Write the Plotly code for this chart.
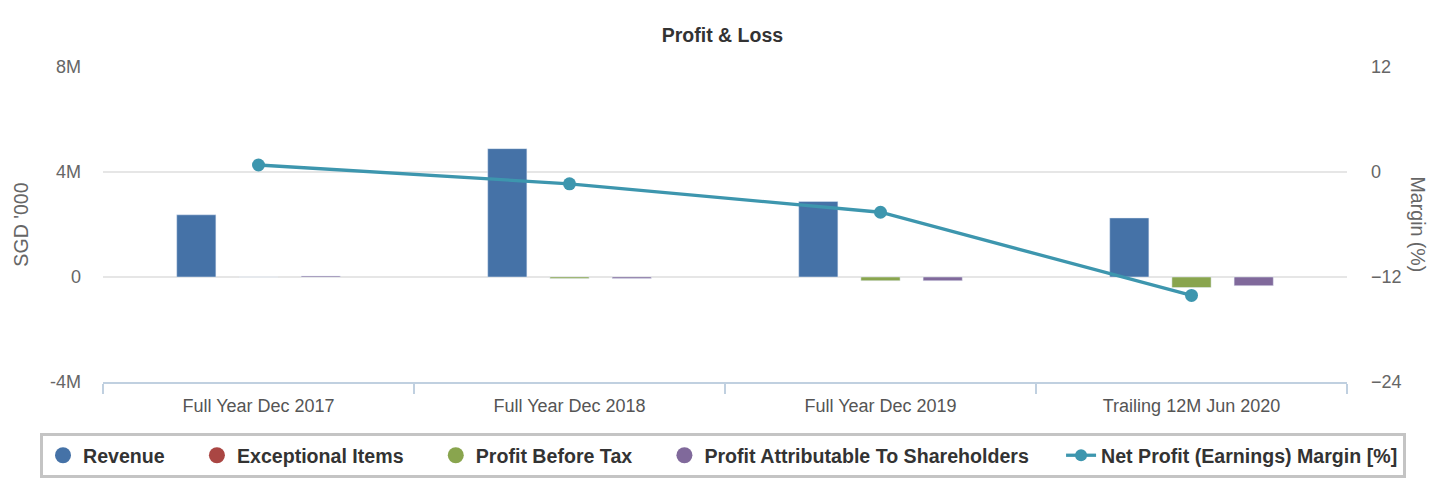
import plotly.graph_objects as go

categories = ["Full Year Dec 2017", "Full Year Dec 2018", "Full Year Dec 2019", "Trailing 12M Jun 2020"]
revenue = [2370000, 4890000, 2880000, 2250000]
exceptional_items = [None, None, None, None]
profit_before_tax = [0, -60000, -140000, -400000]
profit_attributable = [40000, -60000, -140000, -330000]
net_margin = [0.8, -1.35, -4.6, -14.1]

left_ticks = [-4000000, 0, 4000000, 8000000]
left_tick_text = ["-4M", "0", "4M", "8M"]
right_ticks = [-24, -12, 0, 12]

C_REV = "#4572A7"
C_EXC = "#AA4643"
C_PBT = "#89A54E"
C_PAT = "#80699B"
C_LINE = "#3D96AE"

NB = "\u00a0"
pad = NB * 5

# page has an 8px body margin; figure is sized / offset to compensate
W, H = 1428, 480
ML, MR, MT, MB = 20, 20, 59, 106
GW = W - ML - MR
X0, X1 = 95, 1339  # plot area in figure pixels
dom = [(X0 - ML) / GW, (X1 - ML) / GW]

fig = go.Figure()

fig.add_trace(go.Bar(x=categories, y=revenue, name="Revenue", marker_color=C_REV,
                     offsetgroup="a", showlegend=False))
fig.add_trace(go.Bar(x=categories, y=exceptional_items, name="Exceptional Items", marker_color=C_EXC,
                     offsetgroup="b", showlegend=False))
fig.add_trace(go.Bar(x=categories, y=profit_before_tax, name="Profit Before Tax", marker_color=C_PBT,
                     offsetgroup="b", showlegend=False))
fig.add_trace(go.Bar(x=categories, y=profit_attributable, name="Profit Attributable To Shareholders",
                     marker_color=C_PAT, offsetgroup="c", showlegend=False))
fig.add_trace(go.Scatter(x=categories, y=net_margin, yaxis="y2", mode="lines+markers",
                         name="Net Profit (Earnings) Margin [%]",
                         line=dict(color=C_LINE, width=3.3),
                         marker=dict(color=C_LINE, size=13), showlegend=False))

# legend entries (circle symbols like the original)
for nm, col in [("Revenue", C_REV), ("Exceptional Items", C_EXC), ("Profit Before Tax", C_PBT),
                ("Profit Attributable To Shareholders", C_PAT)]:
    fig.add_trace(go.Scatter(x=[None], y=[None], mode="markers", name="<b>" + nm + "</b>" + pad,
                             marker=dict(color=col, size=19), showlegend=True))
fig.add_trace(go.Scatter(x=[None], y=[None], yaxis="y2", mode="lines+markers",
                         name="<b>Net Profit (Earnings) Margin [%]</b>",
                         line=dict(color=C_LINE, width=3.3),
                         marker=dict(color=C_LINE, size=12), showlegend=True))

fig.update_layout(
    width=W, height=H,
    margin=dict(l=ML, r=MR, t=MT, b=MB, autoexpand=False),
    paper_bgcolor="white", plot_bgcolor="white",
    font=dict(family="Liberation Sans, Arial, sans-serif", color="#666666", size=18),
    title=dict(text="<b>Profit & Loss</b>", x=0.5003, xanchor="center", y=1 - 27 / H, yanchor="middle",
               font=dict(size=19.5, color="#333333")),
    barmode="group", bargap=0.4, bargroupgap=0.37,
    xaxis=dict(type="category", domain=dom, showline=True, linecolor="#C0D0E0", linewidth=1.5,
               ticks="outside", tickson="boundaries", ticklen=10, tickcolor="#C0D0E0", tickwidth=1.5,
               ticklabelstandoff=7,
               tickfont=dict(size=18, color="#555555"), showgrid=False, zeroline=False),
    yaxis=dict(range=[-4000000, 8000000], tickvals=left_ticks, ticktext=left_tick_text,
               showgrid=True, gridcolor="#e6e6e6", gridwidth=1.5, zeroline=False,
               ticklabelstandoff=21, tickfont=dict(size=18, color="#666666"),
               title=dict(text="SGD '000", font=dict(size=19.6, color="#666666"), standoff=16)),
    yaxis2=dict(range=[-24, 12], tickvals=right_ticks, overlaying="y", side="right", anchor="x",
                showgrid=False, zeroline=False, ticklabelstandoff=23,
                tickfont=dict(size=18, color="#666666")),
    legend=dict(orientation="h", x=(715 - ML) / GW, xanchor="center", y=(H - MB - 425) / (H - MT - MB),
                yanchor="top",
                bordercolor="#c4c4c4", borderwidth=3, bgcolor="white",
                font=dict(size=19.6, color="#333333", family="Liberation Sans, Arial, sans-serif"),
                itemclick=False, traceorder="normal"),
    annotations=[dict(text="Margin (%)", xref="paper", yref="paper", x=(1410 - ML) / GW, y=0.5,
                      xanchor="center", yanchor="middle", textangle=90, showarrow=False,
                      font=dict(size=19.6, color="#666666"))],
)

fig.write_html("out.html")
